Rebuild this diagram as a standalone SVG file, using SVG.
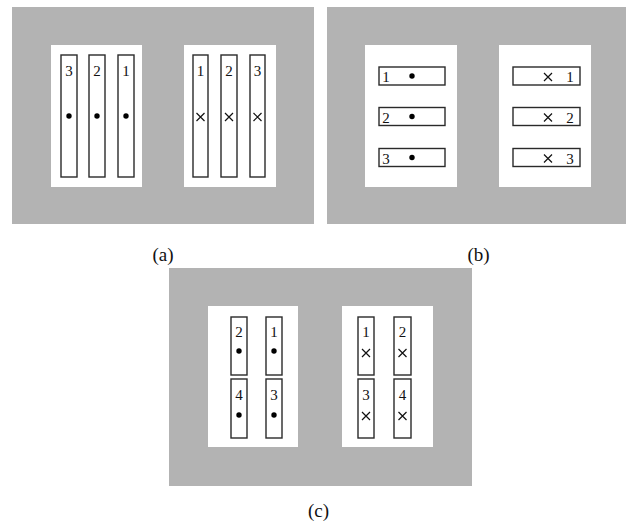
<svg xmlns="http://www.w3.org/2000/svg" width="626" height="526" viewBox="0 0 626 526">
  <style>
    .panel { fill: #b3b3b3; }
    .card { fill: #ffffff; }
    .bar { fill: #ffffff; stroke: #2a2a2a; stroke-width: 1.4; }
    .num { font-family: "Liberation Serif", serif; font-size: 15px; fill: #111; text-anchor: middle; }
    .cap { font-family: "Liberation Serif", serif; font-size: 19px; fill: #111; text-anchor: middle; }
    .dot { fill: #000; }
    .x { stroke: #111; stroke-width: 1.2; fill: none; }
  </style>
  <defs>
    <circle id="dot" class="dot" r="2.7"/>
    <path id="cross" class="x" d="M-4,-4 L4,4 M-4,4 L4,-4"/>
  </defs>
  <rect width="626" height="526" fill="#fff"/>

  <!-- (a) vertical bars -->
  <g id="panel-a">
    <rect class="panel" x="12" y="7" width="302" height="217"/>
    <rect class="card" x="51" y="45" width="91" height="142"/>
    <rect class="card" x="184" y="45" width="92" height="142"/>
    <g id="a-left">
      <rect class="bar" x="61" y="55" width="16" height="122"/>
      <rect class="bar" x="89" y="55" width="16" height="122"/>
      <rect class="bar" x="118" y="55" width="16" height="122"/>
      <text class="num" x="69" y="76">3</text>
      <text class="num" x="97" y="76">2</text>
      <text class="num" x="126" y="76">1</text>
      <use href="#dot" x="69" y="116"/>
      <use href="#dot" x="97" y="116"/>
      <use href="#dot" x="126" y="116"/>
    </g>
    <g id="a-right">
      <rect class="bar" x="193" y="55" width="15" height="122"/>
      <rect class="bar" x="221" y="55" width="16" height="122"/>
      <rect class="bar" x="250" y="55" width="15" height="122"/>
      <text class="num" x="200.5" y="76">1</text>
      <text class="num" x="229" y="76">2</text>
      <text class="num" x="257.5" y="76">3</text>
      <use href="#cross" x="200.5" y="117"/>
      <use href="#cross" x="229" y="117"/>
      <use href="#cross" x="257.5" y="117"/>
    </g>
  </g>
  <text class="cap" x="163" y="261">(a)</text>

  <!-- (b) horizontal bars -->
  <g id="panel-b">
    <rect class="panel" x="327" y="7" width="299" height="217"/>
    <rect class="card" x="365" y="45" width="92" height="142"/>
    <rect class="card" x="499" y="45" width="92" height="142"/>
    <g id="b-left">
      <rect class="bar" x="379" y="67" width="66" height="18"/>
      <rect class="bar" x="379" y="107.5" width="66" height="18"/>
      <rect class="bar" x="379" y="148.5" width="66" height="18"/>
      <text class="num" x="386" y="82">1</text>
      <text class="num" x="386" y="122.5">2</text>
      <text class="num" x="386" y="163.5">3</text>
      <use href="#dot" x="412" y="76"/>
      <use href="#dot" x="412" y="116.5"/>
      <use href="#dot" x="412" y="157.5"/>
    </g>
    <g id="b-right">
      <rect class="bar" x="513" y="67" width="67" height="18"/>
      <rect class="bar" x="513" y="107.5" width="67" height="18"/>
      <rect class="bar" x="513" y="148.5" width="67" height="18"/>
      <text class="num" x="570" y="82">1</text>
      <text class="num" x="570" y="122.5">2</text>
      <text class="num" x="570" y="163.5">3</text>
      <use href="#cross" x="548" y="77"/>
      <use href="#cross" x="548" y="117.5"/>
      <use href="#cross" x="548" y="158.5"/>
    </g>
  </g>
  <text class="cap" x="478.5" y="261">(b)</text>

  <!-- (c) 2x2 short bars -->
  <g id="panel-c">
    <rect class="panel" x="169" y="268" width="303" height="218"/>
    <rect class="card" x="208" y="306" width="90" height="141"/>
    <rect class="card" x="342" y="306" width="91" height="141"/>
    <g id="c-left">
      <rect class="bar" x="231" y="317" width="16" height="58"/>
      <rect class="bar" x="266" y="317" width="16" height="58"/>
      <rect class="bar" x="231" y="379" width="16" height="59"/>
      <rect class="bar" x="266" y="379" width="16" height="59"/>
      <text class="num" x="239" y="337">2</text>
      <text class="num" x="274" y="337">1</text>
      <text class="num" x="239" y="400">4</text>
      <text class="num" x="274" y="400">3</text>
      <use href="#dot" x="239" y="351"/>
      <use href="#dot" x="274" y="351"/>
      <use href="#dot" x="239" y="415"/>
      <use href="#dot" x="274" y="415"/>
    </g>
    <g id="c-right">
      <rect class="bar" x="358" y="317" width="16" height="58"/>
      <rect class="bar" x="394" y="317" width="17" height="58"/>
      <rect class="bar" x="358" y="379" width="16" height="59"/>
      <rect class="bar" x="394" y="379" width="17" height="59"/>
      <text class="num" x="366" y="337">1</text>
      <text class="num" x="402.5" y="337">2</text>
      <text class="num" x="366" y="400">3</text>
      <text class="num" x="402.5" y="400">4</text>
      <use href="#cross" x="366" y="353"/>
      <use href="#cross" x="402.5" y="353"/>
      <use href="#cross" x="366" y="416"/>
      <use href="#cross" x="402.5" y="416"/>
    </g>
  </g>
  <text class="cap" x="318.5" y="517">(c)</text>
</svg>
